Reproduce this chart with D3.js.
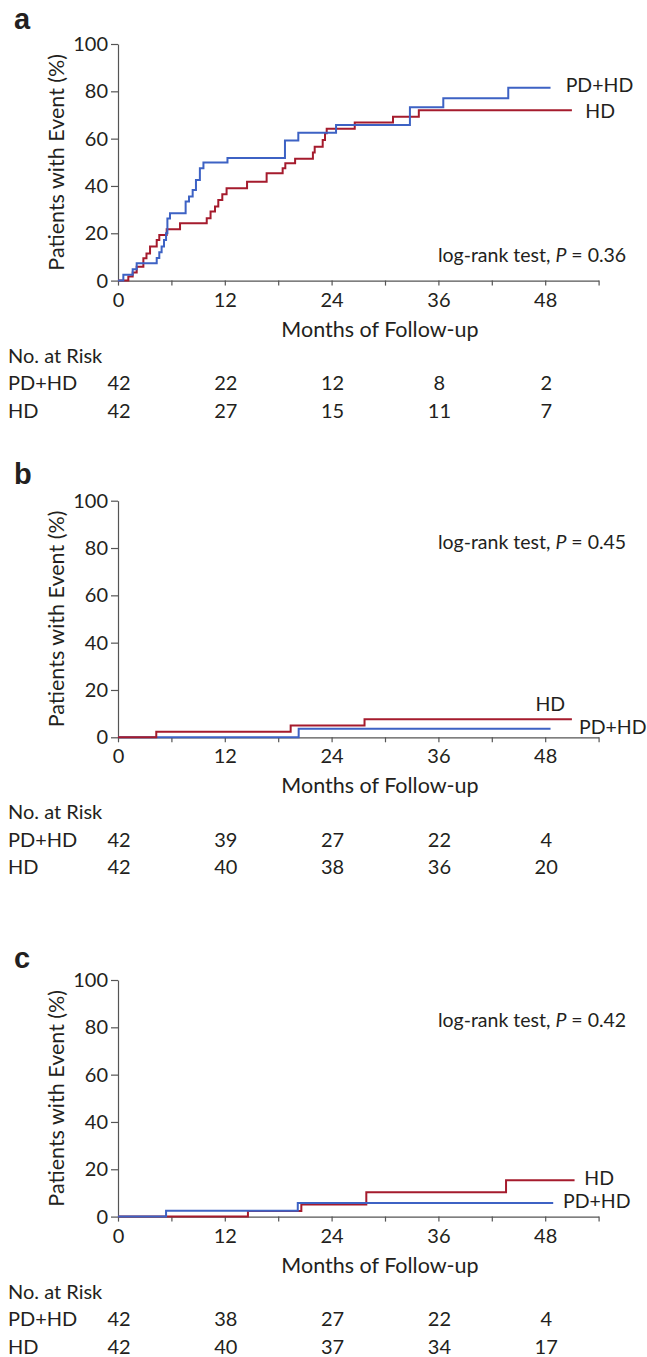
<!DOCTYPE html>
<html>
<head>
<meta charset="utf-8">
<script src="https://cdn.jsdelivr.net/npm/d3@7"></script>
<style>
  body { margin: 0; background: #fff; }
  svg text { font-family: Lato, "Open Sans", sans-serif; fill: #231f20; }
</style>
</head>
<body>
<svg id="chart" width="647" height="1357"></svg>
<script>
'use strict';

// tick labels / risk table columns
var riskMonths = [0, 12, 24, 36, 48];
var groupNames = ["PD+HD", "HD"];

// numbers at risk
var riskA_pdhd = [42, 22, 12, 8, 2];
var riskA_hd   = [42, 27, 15, 11, 7];
var riskB_pdhd = [42, 39, 27, 22, 4];
var riskB_hd   = [42, 40, 38, 36, 20];
var riskC_pdhd = [42, 38, 27, 22, 4];
var riskC_hd   = [42, 40, 37, 34, 17];

// cumulative incidence steps (month, %)
var aPdhdT = [0, 0.6, 1.65, 2.1, 4.35, 4.64, 4.9, 5.17, 5.4, 5.55, 5.84, 7.6, 7.98, 8.39, 8.76, 9.2, 9.6, 12.3, 18.76, 20.26, 24.5, 32.8, 36.55, 43.85];
var aPdhdV = [0, 2.5, 4.8, 7.3, 9.5, 12.0, 14.4, 17.2, 20.0, 26.2, 28.5, 33.4, 35.5, 38.3, 42.5, 47.5, 49.9, 51.8, 59.2, 62.5, 65.8, 73.3, 77.1, 81.5];
var aPdhdEnd = 48.6;
var aHdT = [0, 1.16, 1.65, 2.1, 2.85, 3.2, 3.6, 4.35, 4.64, 5.47, 6.97, 9.97, 10.4, 10.9, 11.27, 11.72, 12.2, 14.5, 16.7, 18.5, 18.8, 19.9, 21.9, 22.1, 23.0, 23.26, 23.45, 26.6, 30.9, 33.8];
var aHdV = [0, 1.7, 3.4, 5.9, 9.4, 11.5, 14.4, 17.2, 19.3, 21.7, 24.2, 26.3, 29.2, 31.3, 34.1, 36.5, 39.0, 41.8, 45.4, 47.5, 49.6, 51.5, 54.1, 56.6, 59.4, 62.3, 64.2, 66.8, 69.3, 72.0];
var aHdEnd = 51;

var bPdhdT = [0, 20.3];
var bPdhdV = [0, 3.6];
var bPdhdEnd = 48.6;
var bHdT = [0, 4.3, 19.4, 27.7];
var bHdV = [0, 2.3, 5.0, 7.6];
var bHdEnd = 51;

var cPdhdT = [0, 5.4, 20.2];
var cPdhdV = [0, 2.5, 5.8];
var cPdhdEnd = 48.9;
var cHdT = [0, 14.6, 20.6, 27.9, 43.6];
var cHdV = [0, 2.4, 5.1, 10.3, 15.4];
var cHdEnd = 51.3;

var pValues = ["0.36", "0.45", "0.42"];

var BLUE = "#3d62c4";
var RED = "#a51b2d";
var AXIS = "#555";

var svg = d3.select("#chart");

function steps(t, v, end) {
  var pts = t.map(function(d, i){ return [d, v[i]]; });
  pts.push([end, v[v.length - 1]]);
  return pts;
}

function drawPanel(o) {
  var plotH = 236.6;
  var g = svg.append("g").attr("transform", "translate(0," + o.top + ")");
  var x = d3.scaleLinear().domain([0, 54]).range([118, 598.6]);
  var y = d3.scaleLinear().domain([0, 100]).range([plotH, 0]);

  g.append("text")
    .attr("x", 14)
    .attr("y", o.letterY)
    .style("font-family", "'Liberation Sans', Arial, sans-serif")
    .style("font-weight", "bold")
    .style("font-size", "29px")
    .text(o.letter);

  var ya = g.append("g")
    .attr("transform", "translate(118,0)")
    .call(d3.axisLeft(y).tickValues(d3.range(0, 101, 20)).tickSize(7).tickPadding(3).tickSizeOuter(0));

  var xa = g.append("g")
    .attr("transform", "translate(0," + plotH + ")")
    .call(d3.axisBottom(x).tickValues(d3.range(0, 55, 6)).tickSize(5).tickPadding(7).tickSizeOuter(0)
      .tickFormat(function(d){ return d % 12 === 0 ? d : ""; }));

  [ya, xa].forEach(function(a){
    a.attr("font-family", null).attr("font-size", null);
    a.selectAll("path, line").attr("stroke", AXIS).attr("stroke-width", 1.2);
    a.selectAll("text").style("font-size", "20px").attr("fill", null);
  });

  g.append("text")
    .attr("transform", "translate(64," + (plotH / 2) + ") rotate(-90)")
    .attr("text-anchor", "middle")
    .style("font-size", "21.5px")
    .text("Patients with Event (%)");

  var line = d3.line()
    .x(function(d){ return x(d[0]); })
    .y(function(d){ return y(d[1]); })
    .curve(d3.curveStepAfter);

  // draw the covered curve first
  o.series.forEach(function(s){
    g.append("path")
      .datum(s.pts)
      .attr("fill", "none")
      .attr("stroke", s.color)
      .attr("stroke-width", 2)
      .attr("d", line);
  });

  o.labels.forEach(function(l){
    g.append("text")
      .attr("x", x(l.m))
      .attr("y", y(l.p) + 7)
      .style("font-size", "19.5px")
      .text(l.text);
  });

  var pt = g.append("text")
    .attr("x", x(57.1))
    .attr("y", y(o.pPos) + 7)
    .attr("text-anchor", "end")
    .style("font-size", "19.5px");
  pt.append("tspan").text("log-rank test, ");
  pt.append("tspan").style("font-style", "italic").text("P");
  pt.append("tspan").text(" = " + o.p);

  g.append("text")
    .attr("x", 380)
    .attr("y", plotH + 56)
    .attr("text-anchor", "middle")
    .style("font-size", "21.5px")
    .text("Months of Follow-up");

  g.append("text")
    .attr("x", 8)
    .attr("y", plotH + 82)
    .style("font-size", "20px")
    .text("No. at Risk");

  [o.riskPdhd, o.riskHd].forEach(function(row, r){
    var ry = plotH + 109.5 + r * 27.5;
    g.append("text")
      .attr("x", 8)
      .attr("y", ry)
      .style("font-size", "20px")
      .text(groupNames[r]);
    g.selectAll(null)
      .data(row)
      .join("text")
        .attr("x", function(d, i){ return x(riskMonths[i]) + 1; })
        .attr("y", ry)
        .attr("text-anchor", "middle")
        .style("font-size", "20px")
        .text(function(d){ return d; });
  });
}

drawPanel({
  top: 44, letter: "a", letterY: -15, p: pValues[0], pPos: 10.9,
  riskPdhd: riskA_pdhd, riskHd: riskA_hd,
  series: [
    { color: RED, pts: steps(aHdT, aHdV, aHdEnd) },
    { color: BLUE, pts: steps(aPdhdT, aPdhdV, aPdhdEnd) }
  ],
  labels: [
    { text: "PD+HD", m: 50.3, p: 82.7 },
    { text: "HD", m: 52.5, p: 71.7 }
  ]
});

drawPanel({
  top: 500.7, letter: "b", letterY: -16.7, p: pValues[1], pPos: 82.6,
  riskPdhd: riskB_pdhd, riskHd: riskB_hd,
  series: [
    { color: BLUE, pts: steps(bPdhdT, bPdhdV, bPdhdEnd) },
    { color: RED, pts: steps(bHdT, bHdV, bHdEnd) }
  ],
  labels: [
    { text: "HD", m: 46.9, p: 14.1 },
    { text: "PD+HD", m: 51.8, p: 4.4 }
  ]
});

drawPanel({
  top: 980, letter: "c", letterY: -12.3, p: pValues[2], pPos: 83,
  riskPdhd: riskC_pdhd, riskHd: riskC_hd,
  series: [
    { color: RED, pts: steps(cHdT, cHdV, cHdEnd) },
    { color: BLUE, pts: steps(cPdhdT, cPdhdV, cPdhdEnd) }
  ],
  labels: [
    { text: "HD", m: 52.4, p: 16.3 },
    { text: "PD+HD", m: 50, p: 6.5 }
  ]
});
</script>
</body>
</html>
